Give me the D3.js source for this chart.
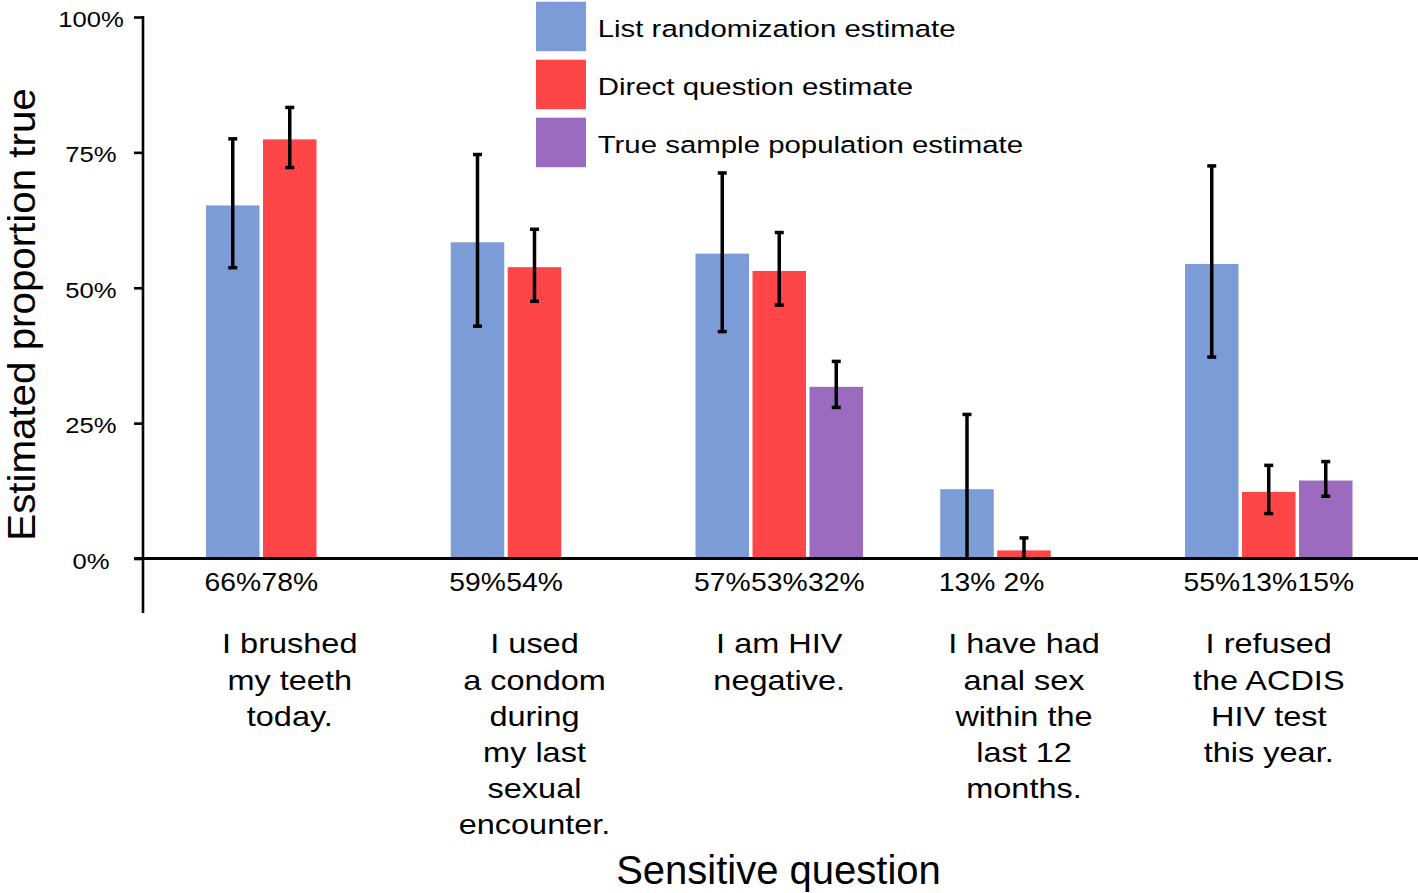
<!DOCTYPE html>
<html>
<head>
<meta charset="utf-8">
<script src="https://cdn.jsdelivr.net/npm/d3@7"></script>
<style>
  html, body { margin: 0; padding: 0; background: #fff; }
  svg { display: block; }
  text { font-family: "Liberation Sans", Arial, Helvetica, sans-serif; fill: #000; }
</style>
</head>
<body>
<svg id="chart" width="1418" height="893"></svg>
<script>
// ---------------- DATA ----------------
const categories = [
  "I brushed\nmy teeth\ntoday.",
  "I used\na condom\nduring\nmy last\nsexual\nencounter.",
  "I am HIV\nnegative.",
  "I have had\nanal sex\nwithin the\nlast 12\nmonths.",
  "I refused\nthe ACDIS\nHIV test\nthis year."
];
const seriesNames = ["List randomization estimate", "Direct question estimate", "True sample population estimate"];
const seriesColors = ["#7b9cd7", "#fe4649", "#9a6bbe"];

// estimates (proportion) per category
const listEstimate   = [0.652, 0.584, 0.563, 0.128, 0.544];
const directEstimate = [0.774, 0.538, 0.531, 0.015, 0.123];
const trueEstimate   = [null,  null,  0.317, null,  0.144];

// confidence intervals [low, high]
const listCI   = [[0.537, 0.775], [0.429, 0.746], [0.419, 0.712], [0.0, 0.266], [0.372, 0.725]];
const directCI = [[0.722, 0.833], [0.475, 0.608], [0.468, 0.602], [0.0, 0.038], [0.083, 0.172]];
const trueCI   = [null, null, [0.279, 0.364], null, [0.115, 0.179]];

// printed value labels
const listLabels   = ["66%", "59%", "57%", "13%", "55%"];
const directLabels = ["78%", "54%", "53%", "2%", "13%"];
const trueLabels   = ["", "", "32%", "", "15%"];

const yTicks = [0, 0.25, 0.5, 0.75, 1.0];
const yTickLabels = ["0%", "25%", "50%", "75%", "100%"];
const yTitle = "Estimated proportion true";
const xTitle = "Sensitive question";

// ---------------- LAYOUT ----------------
const svg = d3.select("#chart");

const y = d3.scaleLinear().domain([0, 1]).range([558.5, 17]);
const x0 = d3.scaleBand().domain(d3.range(categories.length)).range([206, 1352.5]).paddingInner(0.3156).paddingOuter(0);
const x1 = d3.scaleBand().domain(d3.range(3)).range([0, x0.bandwidth()]).paddingInner(0.0614).paddingOuter(0);

const values = [listEstimate, directEstimate, trueEstimate];
const cis = [listCI, directCI, trueCI];
const labels = [listLabels, directLabels, trueLabels];

const rows = [];
categories.forEach((c, i) => {
  for (let s = 0; s < 3; s++) {
    if (values[s][i] != null) rows.push({ cat: i, s, v: values[s][i], ci: cis[s][i], label: labels[s][i] });
  }
});

// bars
svg.append("g").selectAll("rect").data(rows).join("rect")
  .attr("x", d => x0(d.cat) + x1(d.s))
  .attr("width", x1.bandwidth())
  .attr("y", d => y(d.v))
  .attr("height", d => y(0) - y(d.v))
  .attr("fill", d => seriesColors[d.s]);

// axes
const yAxis = d3.axisLeft(y).tickValues(yTicks).tickSize(9).tickFormat("");
const gy = svg.append("g").attr("transform", "translate(143,0)").call(yAxis);
gy.select(".domain").remove();
gy.selectAll(".tick line").attr("stroke", "#000").attr("stroke-width", 2.6);
svg.append("line").attr("x1", 143).attr("x2", 143).attr("y1", y(1) - 1).attr("y2", 613)
  .attr("stroke", "#000").attr("stroke-width", 2.6);
svg.append("line").attr("x1", 134).attr("x2", 1418).attr("y1", y(0)).attr("y2", y(0))
  .attr("stroke", "#000").attr("stroke-width", 3);

// y tick labels
svg.append("g").selectAll("text").data(yTicks).join("text")
  .attr("transform", d => `translate(91,${y(d) + 10}) scale(1.14,1)`)
  .attr("text-anchor", "middle")
  .attr("font-size", 22.5)
  .text((d, i) => yTickLabels[i]);

// error bars
const eb = svg.append("g").attr("stroke", "#000").attr("stroke-width", 3.5);
rows.filter(d => d.ci).forEach(d => {
  const cx = x0(d.cat) + x1(d.s) + x1.bandwidth() / 2;
  eb.append("line").attr("x1", cx).attr("x2", cx).attr("y1", y(d.ci[0])).attr("y2", y(d.ci[1]));
  if (d.ci[0] > 0) eb.append("line").attr("x1", cx - 4.5).attr("x2", cx + 4.5).attr("y1", y(d.ci[0])).attr("y2", y(d.ci[0]));
  eb.append("line").attr("x1", cx - 4.5).attr("x2", cx + 4.5).attr("y1", y(d.ci[1])).attr("y2", y(d.ci[1]));
});

// value labels under bars
svg.append("g").selectAll("text").data(rows.filter(d => d.label)).join("text")
  .attr("transform", d => `translate(${x0(d.cat) + x1(d.s) + x1.bandwidth() / 2},591) scale(1.13,1)`)
  .attr("text-anchor", "middle")
  .attr("font-size", 25)
  .text(d => d.label);

// category labels (centered at middle slot)
const catG = svg.append("g");
categories.forEach((c, i) => {
  const cx = x0(i) + x1(1) + x1.bandwidth() / 2;
  const lines = c.split("\n");
  lines.forEach((ln, k) => {
    catG.append("text")
      .attr("transform", `translate(${cx},${653.3 + k * 36.2}) scale(1.16,1)`)
      .attr("text-anchor", "middle")
      .attr("font-size", 28)
      .text(ln);
  });
});

// axis titles
svg.append("text")
  .attr("transform", "translate(34.5,314.5) rotate(-90) scale(1.075,1.02)")
  .attr("text-anchor", "middle")
  .attr("font-size", 37.5)
  .text(yTitle);

svg.append("text")
  .attr("x", 778.5).attr("y", 884)
  .attr("text-anchor", "middle")
  .attr("font-size", 40)
  .text(xTitle);

// legend
const lg = svg.append("g");
seriesNames.forEach((name, i) => {
  lg.append("rect").attr("x", 536).attr("y", 1.7 + i * 58).attr("width", 50).attr("height", 49.5)
    .attr("fill", seriesColors[i]);
  lg.append("text")
    .attr("transform", `translate(597.7,${37 + i * 58}) scale(1.21,1)`)
    .attr("font-size", 24.3)
    .text(name);
});
</script>
</body>
</html>
